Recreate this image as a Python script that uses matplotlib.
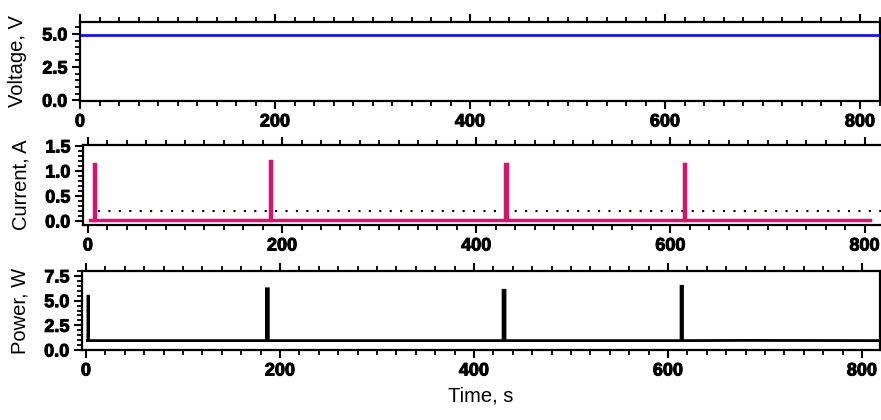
import matplotlib
matplotlib.use("Agg")
import matplotlib.pyplot as plt
import matplotlib.patheffects as pe
from matplotlib.ticker import MultipleLocator, FormatStrFormatter

plt.rcParams['font.family'] = ['Liberation Sans', 'DejaVu Sans']

# ---- data ----
volt_t = [0, 820]
volt_v = [4.95, 4.95]

cur_t = [2, 6, 6, 7.5, 7.5, 187.5, 187.5, 189, 189, 430, 430, 431.5, 431.5,
         613.5, 613.5, 615, 615, 806]
cur_v = [0.02, 0.02, 1.15, 1.15, 0.02, 0.02, 1.20, 1.20, 0.02, 0.02, 1.15, 1.15, 0.02,
         0.02, 1.15, 1.15, 0.02, 0.02]

threshold_t = [10, 822]
threshold_v = [0.2, 0.2]

pow_t = [1.5, 2, 2, 2.5, 2.5, 186, 186, 188, 188, 430, 430, 432, 432,
         613.5, 613.5, 615, 615, 680, 818]
pow_v = [0.95, 0.95, 5.45, 5.45, 0.95, 0.95, 6.2, 6.2, 0.95, 0.95, 6.05, 6.05, 0.95,
         0.95, 6.45, 6.45, 0.95, 0.97, 0.95]

xticks = [0, 200, 400, 600, 800]

W, H = 881, 420
fig = plt.figure(figsize=(W / 100, H / 100), dpi=100)


def px_axes(l, t, r, b):
    return fig.add_axes([l / W, 1 - b / H, (r - l) / W, (b - t) / H])


ax1 = px_axes(80, 22, 880, 101)
ax2 = px_axes(83, 145, 884, 225)
ax3 = px_axes(82, 271, 880, 350)

ax1.plot(volt_t, volt_v, color='#1414E6', lw=2.0)
ax2.plot(threshold_t, threshold_v, color='black', lw=1.5, ls=(0, (1, 4)))
ax2.plot(cur_t, cur_v, color='#D6136E', lw=2.5, solid_joinstyle='miter')
ax3.plot(pow_t, pow_v, color='black', lw=2.0, solid_joinstyle='miter')

ax1.set_xlim(0, 820.5)
ax1.set_ylim(-0.06, 5.9)
ax2.set_xlim(-5.1, 820)
ax2.set_ylim(-0.08, 1.52)
ax3.set_xlim(-4.1, 818.6)
ax3.set_ylim(0, 8.0)

ax1.set_ylabel('Voltage, V', fontsize=14.5)
ax2.set_ylabel('Current, A', fontsize=14.5)
ax3.set_ylabel('Power, W', fontsize=14.5)
ax3.set_xlabel('Time, s', fontsize=14.5, labelpad=5)

ax1.yaxis.set_major_locator(MultipleLocator(2.5))
ax1.yaxis.set_minor_locator(MultipleLocator(0.5))
ax2.yaxis.set_major_locator(MultipleLocator(0.5))
ax2.yaxis.set_minor_locator(MultipleLocator(0.1))
ax3.yaxis.set_major_locator(MultipleLocator(2.5))
ax3.yaxis.set_minor_locator(MultipleLocator(0.5))

stroke = [pe.withStroke(linewidth=0.7, foreground='black')]
for ax in (ax1, ax2, ax3):
    ax.set_xticks(xticks)
    ax.xaxis.set_minor_locator(MultipleLocator(20))
    ax.yaxis.set_major_formatter(FormatStrFormatter('%.1f'))
    ax.tick_params(axis='both', which='major', direction='out', length=6, width=1.5,
                   labelsize=13, pad=3)
    ax.tick_params(axis='both', which='minor', direction='out', length=3.5, width=1.3)
    ax.tick_params(axis='x', which='both', top=True)
    for lab in ax.get_xticklabels() + ax.get_yticklabels():
        lab.set_fontweight('bold')
        lab.set_path_effects(stroke)
    for sp in ax.spines.values():
        sp.set_linewidth(1.6)
    ax.yaxis.set_label_coords(-0.066, 0.5)

fig.savefig('out.png', dpi=100)
